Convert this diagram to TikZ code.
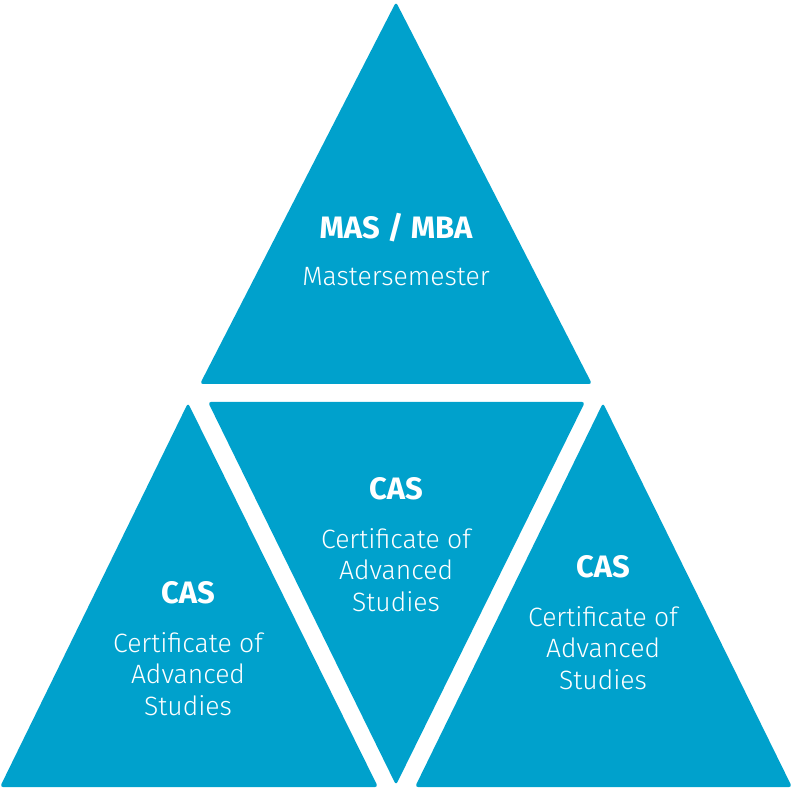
\documentclass[tikz,border=0pt]{standalone}
\usepackage{fontspec}
\setmainfont{Fira Sans}
\newfontfamily\lightfont{Fira Sans Light}
\usepackage{xcolor}
\usetikzlibrary{positioning}
\definecolor{casblue}{HTML}{00A1CC}

\tikzset{
  tri/.style={fill=casblue, rounded corners=3pt},
  title/.style={text=white, font=\bfseries\fontsize{31}{36}\selectfont},
  sub/.style={text=white, align=center, font=\lightfont\fontsize{26.5}{31.5}\selectfont}
}

\begin{document}
\begin{tikzpicture}[x=1pt, y=1pt]
  \useasboundingbox (0,0) rectangle (792,790);

  % triangles
  \fill[tri] (200,406) -- (396,788) -- (592,406) -- cycle;
  \fill[tri] (0,3) -- (188,387) -- (378,3) -- cycle;
  \fill[tri] (208,388) -- (585,388) -- (396,5) -- cycle;
  \fill[tri] (415,3) -- (603,387) -- (792,3) -- cycle;

  % texts
  \node[title] (mas) at (396,562) {MAS / MBA};
  \node[sub] (master) at (396,513) {Mastersemester};

  \node[title] (casmid) at (396,301) {CAS};
  \node[sub, below=21pt of casmid] (certmid) {Certificate of\\Advanced\\Studies};

  \node[title] (casleft) at (188,197) {CAS};
  \node[sub, below=21pt of casleft] (certleft) {Certificate of\\Advanced\\Studies};

  \node[title] (casright) at (603,223) {CAS};
  \node[sub, below=21pt of casright] (certright) {Certificate of\\Advanced\\Studies};
\end{tikzpicture}
\end{document}
